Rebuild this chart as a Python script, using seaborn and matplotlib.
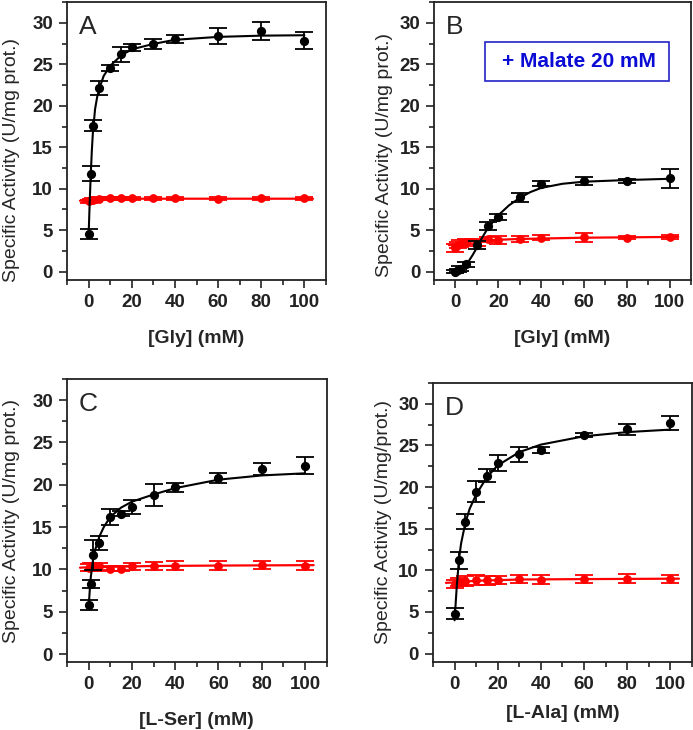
import numpy as np
import pandas as pd
import seaborn as sns
import matplotlib.pyplot as plt
from matplotlib.patches import Rectangle
from matplotlib.ticker import MultipleLocator

# Plot aesthetics
sns.set_style("ticks")
plt.rcParams['font.family'] = ['Liberation Sans', 'DejaVu Sans']
plt.rcParams.update({'axes.linewidth': 1.3,
                     'axes.edgecolor': '#222222',
                     'xtick.major.width': 1.2,
                     'ytick.major.width': 1.2,
                     'xtick.minor.width': 1.2,
                     'ytick.minor.width': 1.2,
                     'xtick.color': '#222222',
                     'ytick.color': '#222222'})

# ---- Panel A: [Gly] ----
a_x = [0, 1, 2, 5, 10, 15, 20, 30, 40, 60, 80, 100]
a_blk = [4.5, 11.8, 17.6, 22.1, 24.6, 26.2, 27.05, 27.45, 28.05, 28.4, 29.0, 27.85]
a_blk_err = [0.6, 0.9, 0.65, 0.85, 0.35, 0.9, 0.45, 0.55, 0.5, 1.0, 1.05, 1.0]
a_red = [8.5, 8.6, 8.7, 8.8, 8.85, 8.85, 8.85, 8.85, 8.85, 8.8, 8.85, 8.85]
a_red_err = [0.2, 0.2, 0.2, 0.2, 0.2, 0.2, 0.2, 0.2, 0.2, 0.2, 0.2, 0.2]
a_fit_x = [0, 0.5, 1, 1.5, 2, 3, 4, 5, 7, 10, 15, 20, 30, 40, 60, 80, 100]
a_fit_y = [4.3, 8.3, 11.7, 14.6, 16.8, 19.6, 21.1, 22.1, 23.6, 24.8, 26.05, 26.8, 27.45, 27.95, 28.3, 28.45, 28.5]
a_rfit_x = [-4, 0, 5, 20, 104]
a_rfit_y = [8.55, 8.6, 8.75, 8.8, 8.8]

# ---- Panel B: [Gly] + malate ----
b_x = [0, 1, 2, 5, 10, 15, 20, 30, 40, 60, 80, 100]
b_blk = [0.0, 0.15, 0.35, 0.9, 3.2, 5.55, 6.6, 8.95, 10.6, 10.9, 10.9, 11.25]
b_blk_err = [0.2, 0.2, 0.3, 0.3, 0.5, 0.5, 0.4, 0.5, 0.3, 0.5, 0.25, 1.1]
b_red = [2.9, 3.2, 3.4, 3.6, 3.5, 3.9, 3.8, 3.95, 4.1, 4.15, 4.1, 4.2]
b_red_err = [0.5, 0.4, 0.4, 0.3, 0.4, 0.3, 0.5, 0.35, 0.3, 0.55, 0.2, 0.25]
b_fit_x = [0, 3, 5, 8, 10, 12, 15, 20, 25, 30, 35, 40, 50, 60, 80, 100]
b_fit_y = [0.0, 0.3, 0.8, 2.0, 2.9, 3.9, 5.2, 6.8, 8.0, 8.9, 9.6, 10.1, 10.6, 10.85, 11.05, 11.2]
b_rfit_x = [-3, 0, 5, 10, 20, 30, 60, 104]
b_rfit_y = [3.2, 3.3, 3.55, 3.7, 3.85, 3.95, 4.1, 4.2]

# ---- Panel C: [L-Ser] ----
c_x = [0, 1, 2, 5, 10, 15, 20, 30, 40, 60, 80, 100]
c_blk = [5.8, 8.25, 11.7, 13.1, 16.2, 16.6, 17.4, 18.8, 19.7, 20.8, 21.9, 22.25]
c_blk_err = [0.55, 0.45, 1.8, 0.8, 0.9, 0.35, 0.8, 1.3, 0.55, 0.6, 0.7, 1.0]
c_red = [10.2, 10.3, 10.3, 10.35, 10.1, 10.1, 10.35, 10.4, 10.45, 10.45, 10.5, 10.45]
c_red_err = [0.4, 0.5, 0.5, 0.45, 0.3, 0.3, 0.45, 0.5, 0.5, 0.55, 0.45, 0.5]
c_fit_x = [0, 0.5, 1, 2, 3, 5, 7, 10, 15, 20, 30, 40, 60, 80, 100]
c_fit_y = [5.5, 7.5, 9.1, 11.1, 12.3, 13.9, 15.0, 16.2, 17.3, 18.0, 18.85, 19.6, 20.6, 21.1, 21.35]
c_rfit_x = [-4, 0, 10, 30, 60, 104]
c_rfit_y = [10.2, 10.25, 10.3, 10.4, 10.45, 10.5]

# ---- Panel D: [L-Ala] ----
d_x = [0, 2, 5, 10, 15, 20, 30, 40, 60, 80, 100]
d_blk = [4.8, 11.2, 15.85, 19.45, 21.35, 22.9, 23.95, 24.5, 26.25, 26.95, 27.7]
d_blk_err = [0.65, 1.0, 0.9, 1.3, 0.8, 0.95, 0.9, 0.35, 0.25, 0.65, 0.85]
d_red = [8.4, 8.6, 8.7, 8.8, 8.8, 8.85, 8.95, 8.9, 8.95, 9.0, 8.95]
d_red_err = [0.5, 0.5, 0.6, 0.6, 0.5, 0.5, 0.45, 0.5, 0.45, 0.55, 0.45]
d_fit_x = [0, 1, 2, 3, 5, 7, 10, 15, 20, 30, 40, 60, 80, 100]
d_fit_y = [4.0, 8.0, 11.2, 13.2, 15.7, 17.4, 19.1, 21.2, 22.6, 24.2, 25.1, 26.1, 26.6, 26.9]
d_rfit_x = [-4, 0, 10, 30, 60, 104]
d_rfit_y = [8.5, 8.55, 8.75, 8.9, 8.95, 9.0]


def panel(ax, x, blk, blk_err, red, red_err, fx, fy, rfx, rfy,
          letter, xlabel, ylabel, ylab_x, ylab_y, xlab_y):
    # red series
    sns.lineplot(x=rfx, y=rfy, color='red', lw=1.6, ax=ax, zorder=2)
    ax.errorbar(x, red, yerr=red_err, fmt='none', ecolor='red',
                elinewidth=1.3, capsize=6.5, capthick=1.3, zorder=3)
    sns.scatterplot(x=x, y=red, color='red', s=40, linewidth=0, ax=ax, zorder=4)
    # black series
    sns.lineplot(x=fx, y=fy, color='black', lw=1.5, ax=ax, zorder=5)
    ax.errorbar(x, blk, yerr=blk_err, fmt='none', ecolor='black',
                elinewidth=1.3, capsize=6.5, capthick=1.3, zorder=6)
    sns.scatterplot(x=x, y=blk, color='black', s=44, linewidth=0, ax=ax, zorder=7)

    ax.set_xlim(-10, 110)
    ax.set_ylim(-1, 32.5)
    ax.xaxis.set_major_locator(MultipleLocator(20))
    ax.xaxis.set_minor_locator(MultipleLocator(10))
    ax.yaxis.set_major_locator(MultipleLocator(5))
    ax.yaxis.set_minor_locator(MultipleLocator(2.5))
    ax.tick_params(which='major', length=6, direction='out', labelsize=13.5, pad=4)
    ax.tick_params(which='minor', length=3.5, direction='out')
    for t in ax.get_xticklabels() + ax.get_yticklabels():
        t.set_fontweight('bold')

    ax.set_xlabel(xlabel, fontsize=14, fontweight='bold')
    ax.set_ylabel(ylabel, fontsize=14)
    ax.yaxis.set_label_coords(ylab_x, ylab_y)
    ax.xaxis.set_label_coords(0.5, xlab_y)
    ax.text(0.045, 0.955, letter, transform=ax.transAxes, fontsize=19,
            va='top', ha='left')


fig = plt.figure(figsize=(6.93, 7.30), dpi=100)
axA = fig.add_axes([0.0967, 0.6164, 0.3737, 0.3808])
axB = fig.add_axes([0.6263, 0.6164, 0.3709, 0.3808])
axC = fig.add_axes([0.0967, 0.0925, 0.3747, 0.3884])
axD = fig.add_axes([0.6248, 0.0932, 0.3737, 0.3822])

panel(axA, a_x, a_blk, a_blk_err, a_red, a_red_err, a_fit_x, a_fit_y,
      a_rfit_x, a_rfit_y, 'A', '[Gly] (mM)', 'Specific Activity (U/mg prot.)',
      -0.18, 0.43, -0.18)
panel(axB, b_x, b_blk, b_blk_err, b_red, b_red_err, b_fit_x, b_fit_y,
      b_rfit_x, b_rfit_y, 'B', '[Gly] (mM)', 'Specific Activity (U/mg prot.)',
      -0.16, 0.45, -0.18)
panel(axC, c_x, c_blk, c_blk_err, c_red, c_red_err, c_fit_x, c_fit_y,
      c_rfit_x, c_rfit_y, 'C', '[L-Ser] (mM)', 'Specific Activity (U/mg prot.)',
      -0.18, 0.5, -0.175)
panel(axD, d_x, d_blk, d_blk_err, d_red, d_red_err, d_fit_x, d_fit_y,
      d_rfit_x, d_rfit_y, 'D', '[L-Ala] (mM)', 'Specific Activity (U/mg/prot.)',
      -0.16, 0.5, -0.155)

# malate annotation box in panel B
axB.add_patch(Rectangle((0.198, 0.716), 0.716, 0.14, transform=axB.transAxes,
                        fill=False, edgecolor='#2323c8', lw=1.2, zorder=8))
axB.text(0.565, 0.786, '+ Malate 20 mM', transform=axB.transAxes,
         fontsize=15, fontweight='bold', color='#0b0bd6',
         ha='center', va='center', zorder=9)

fig.savefig('out.png', dpi=100)
